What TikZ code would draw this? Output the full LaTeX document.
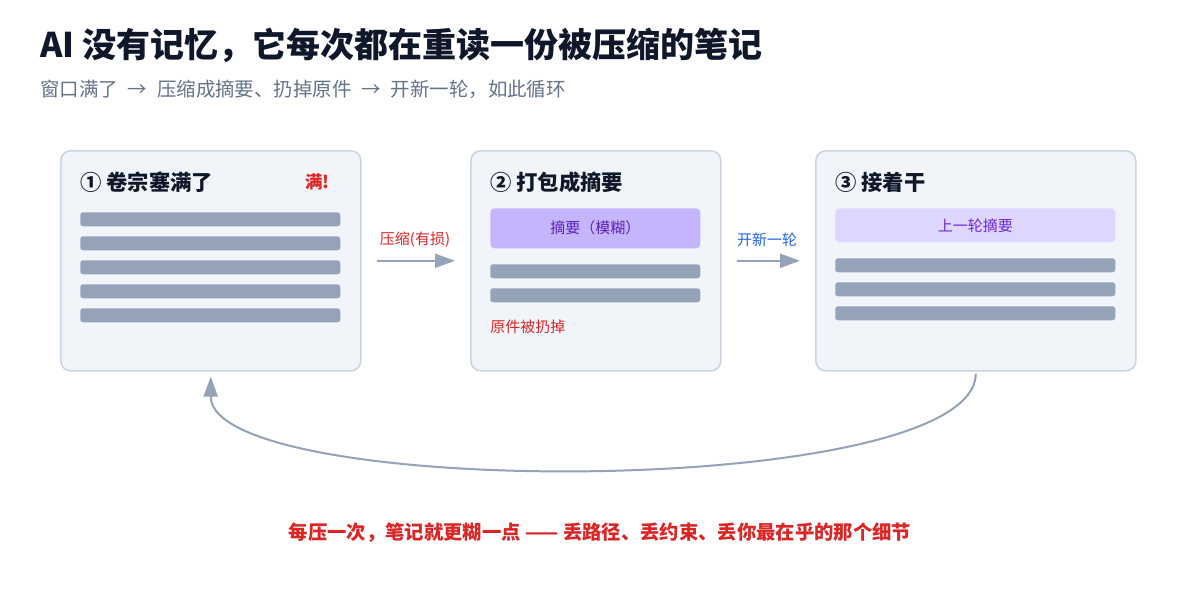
\documentclass[tikz,border=0pt]{standalone}
\usepackage{fontspec}
\setmainfont{Noto Sans CJK SC}
\usetikzlibrary{arrows.meta,calc}
\definecolor{ink}{HTML}{0F172A}
\definecolor{subgray}{HTML}{64748B}
\definecolor{cardfill}{HTML}{F1F5F9}
\definecolor{cardline}{HTML}{CBD5E1}
\definecolor{barcol}{HTML}{94A3B8}
\definecolor{redc}{HTML}{DC2626}
\definecolor{bluec}{HTML}{2563EB}
\definecolor{purfill}{HTML}{C4B5FD}
\definecolor{purtext}{HTML}{5B21B6}
\definecolor{lpurfill}{HTML}{DDD6FE}
\definecolor{lpurtext}{HTML}{6D28D9}
\newcommand{\sarrow}{\hspace{0.5em}→\hspace{0.5em}}
\tikzset{
  card/.style={draw=cardline, fill=cardfill, line width=1.2pt, rounded corners=7.5pt, anchor=north west, inner sep=0pt},
  bar/.style={fill=barcol, rounded corners=2pt, anchor=north west, inner sep=0pt, minimum height=10.5pt},
  cardtitle/.style={anchor=west, inner sep=0pt, text=ink, font=\bfseries\fontsize{16}{19}\selectfont},
  small/.style={inner sep=0pt, font=\fontsize{11.25}{13}\selectfont},
  arr/.style={draw=barcol, line width=1.5pt, -{Triangle[length=15pt,width=10.5pt]}},
}
\begin{document}
\begin{tikzpicture}[x=0.75pt,y=-0.75pt]
\useasboundingbox[fill=white] (0,0) rectangle (1200,600);
% header
\node[anchor=west, inner sep=0pt, text=ink, font=\bfseries\fontsize{25.5}{30}\selectfont] (title) at (40,45) {AI 没有记忆，它每次都在重读一份被压缩的笔记};
\node[anchor=west, inner sep=0pt, text=subgray, font=\fontsize{14.6}{17}\selectfont] (sub) at (40,89) {窗口满了\sarrow 压缩成摘要、扔掉原件\sarrow 开新一轮，如此循环};
% cards
\node[card, minimum width=225pt, minimum height=165pt] (b1) at (60,150) {};
\node[card, minimum width=187.5pt, minimum height=165pt] (b2) at (470,150) {};
\node[card, minimum width=240pt, minimum height=165pt] (b3) at (815,150) {};
% card 1
\node[cardtitle] (t1) at (80,182) {① 卷宗塞满了};
\node[anchor=west, inner sep=0pt, text=redc, font=\bfseries\fontsize{13}{15}\selectfont] (full) at (305,182) {满!};
\foreach \i/\y in {1/212,2/236,3/260,4/284,5/308}
  \node[bar, minimum width=195pt] (b1bar\i) at (80,\y) {};
% card 2
\node[cardtitle] (t2) at (490,182) {② 打包成摘要};
\node[fill=purfill, rounded corners=3pt, anchor=north west, minimum width=157.5pt, minimum height=30pt, inner sep=0pt, text=purtext, font=\fontsize{11.25}{13}\selectfont] (sum2) at (490,208) {摘要（模糊）};
\foreach \i/\y in {1/264,2/288}
  \node[bar, minimum width=157.5pt] (b2bar\i) at (490,\y) {};
\node[small, anchor=west, text=redc] (lost) at (490,327) {原件被扔掉};
% card 3
\node[cardtitle] (t3) at (835,182) {③ 接着干};
\node[fill=lpurfill, rounded corners=3pt, anchor=north west, minimum width=210pt, minimum height=25.5pt, inner sep=0pt, text=lpurtext, font=\fontsize{11.25}{13}\selectfont] (sum3) at (835,208) {上一轮摘要};
\foreach \i/\y in {1/258,2/282,3/306}
  \node[bar, minimum width=210pt] (b3bar\i) at (835,\y) {};
% arrows between cards
\draw[arr] ([xshift=11.25pt]b1.east) -- ([xshift=-11.25pt]b2.west);
\draw[arr] ([xshift=11.25pt]b2.east) -- ([xshift=-11.25pt]b3.west);
\node[small, text=redc] (l1) at (415,240) {压缩(有损)};
\node[small, text=bluec] (l2) at (767,240) {开新一轮};
% loop back
\draw[arr] ([yshift=-1.5pt]b3.south) .. controls (975,500) and (210,500) .. ([yshift=-3.75pt]b1.south);
% footer
\node[inner sep=0pt, text=redc, font=\bfseries\fontsize{14.5}{17}\selectfont] (foot) at (600,533) {每压一次，笔记就更糊一点 —— 丢路径、丢约束、丢你最在乎的那个细节};
\end{tikzpicture}
\end{document}
